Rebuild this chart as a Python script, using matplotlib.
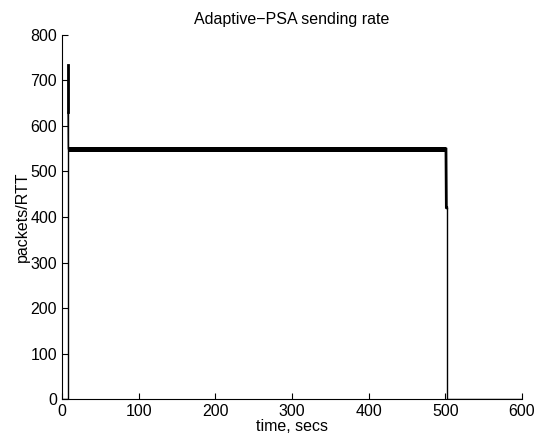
import matplotlib
matplotlib.use("Agg")
import matplotlib.pyplot as plt

plt.rcParams['font.family'] = ['Liberation Sans', 'DejaVu Sans']

# start-up spike (thin trace)
edge_time = [0, 8, 8, 8, 8.3]
edge_rate = [0, 0, 735, 630, 550]
# plateau (dense oscillation, drawn thick)
plateau_time = [8.3, 100, 200, 300, 400, 501]
plateau_rate = [549, 549, 549, 549, 549, 549]
# drop at end
drop_time = [501, 501.5, 502, 502, 600]
drop_rate = [549, 420, 420, 0, 0]

xticks = [0, 100, 200, 300, 400, 500, 600]
yticks = [0, 100, 200, 300, 400, 500, 600, 700, 800]

fig = plt.figure(figsize=(5.41, 4.42), dpi=100)
ax = fig.add_axes([0.1146, 0.097, 0.85, 0.824])

ax.plot(edge_time[:3], edge_rate[:3], color='black', lw=1.0)
ax.plot(edge_time[2:4], edge_rate[2:4], color='black', lw=2.0)
ax.plot(edge_time[3:], edge_rate[3:], color='black', lw=1.0)
ax.plot(plateau_time, plateau_rate, color='black', lw=3.6, solid_capstyle='butt')
ax.plot(drop_time[:3], drop_rate[:3], color='black', lw=2.0)
ax.plot(drop_time[2:], drop_rate[2:], color='black', lw=1.0)

ax.set_xlim(0, 600)
ax.set_ylim(0, 800)
ax.set_xticks(xticks)
ax.set_yticks(yticks)
ax.spines['top'].set_visible(False)
ax.spines['right'].set_visible(False)
ax.tick_params(direction='in', length=4, labelsize=11.5, width=0.8)
ax.set_xlabel('time, secs', fontsize=11.5, labelpad=0)
ax.set_ylabel('packets/RTT', fontsize=11.5, labelpad=0)
ax.set_title('Adaptive\u2212PSA sending rate', fontsize=11.5, pad=8)

fig.savefig('out.png', dpi=100)
